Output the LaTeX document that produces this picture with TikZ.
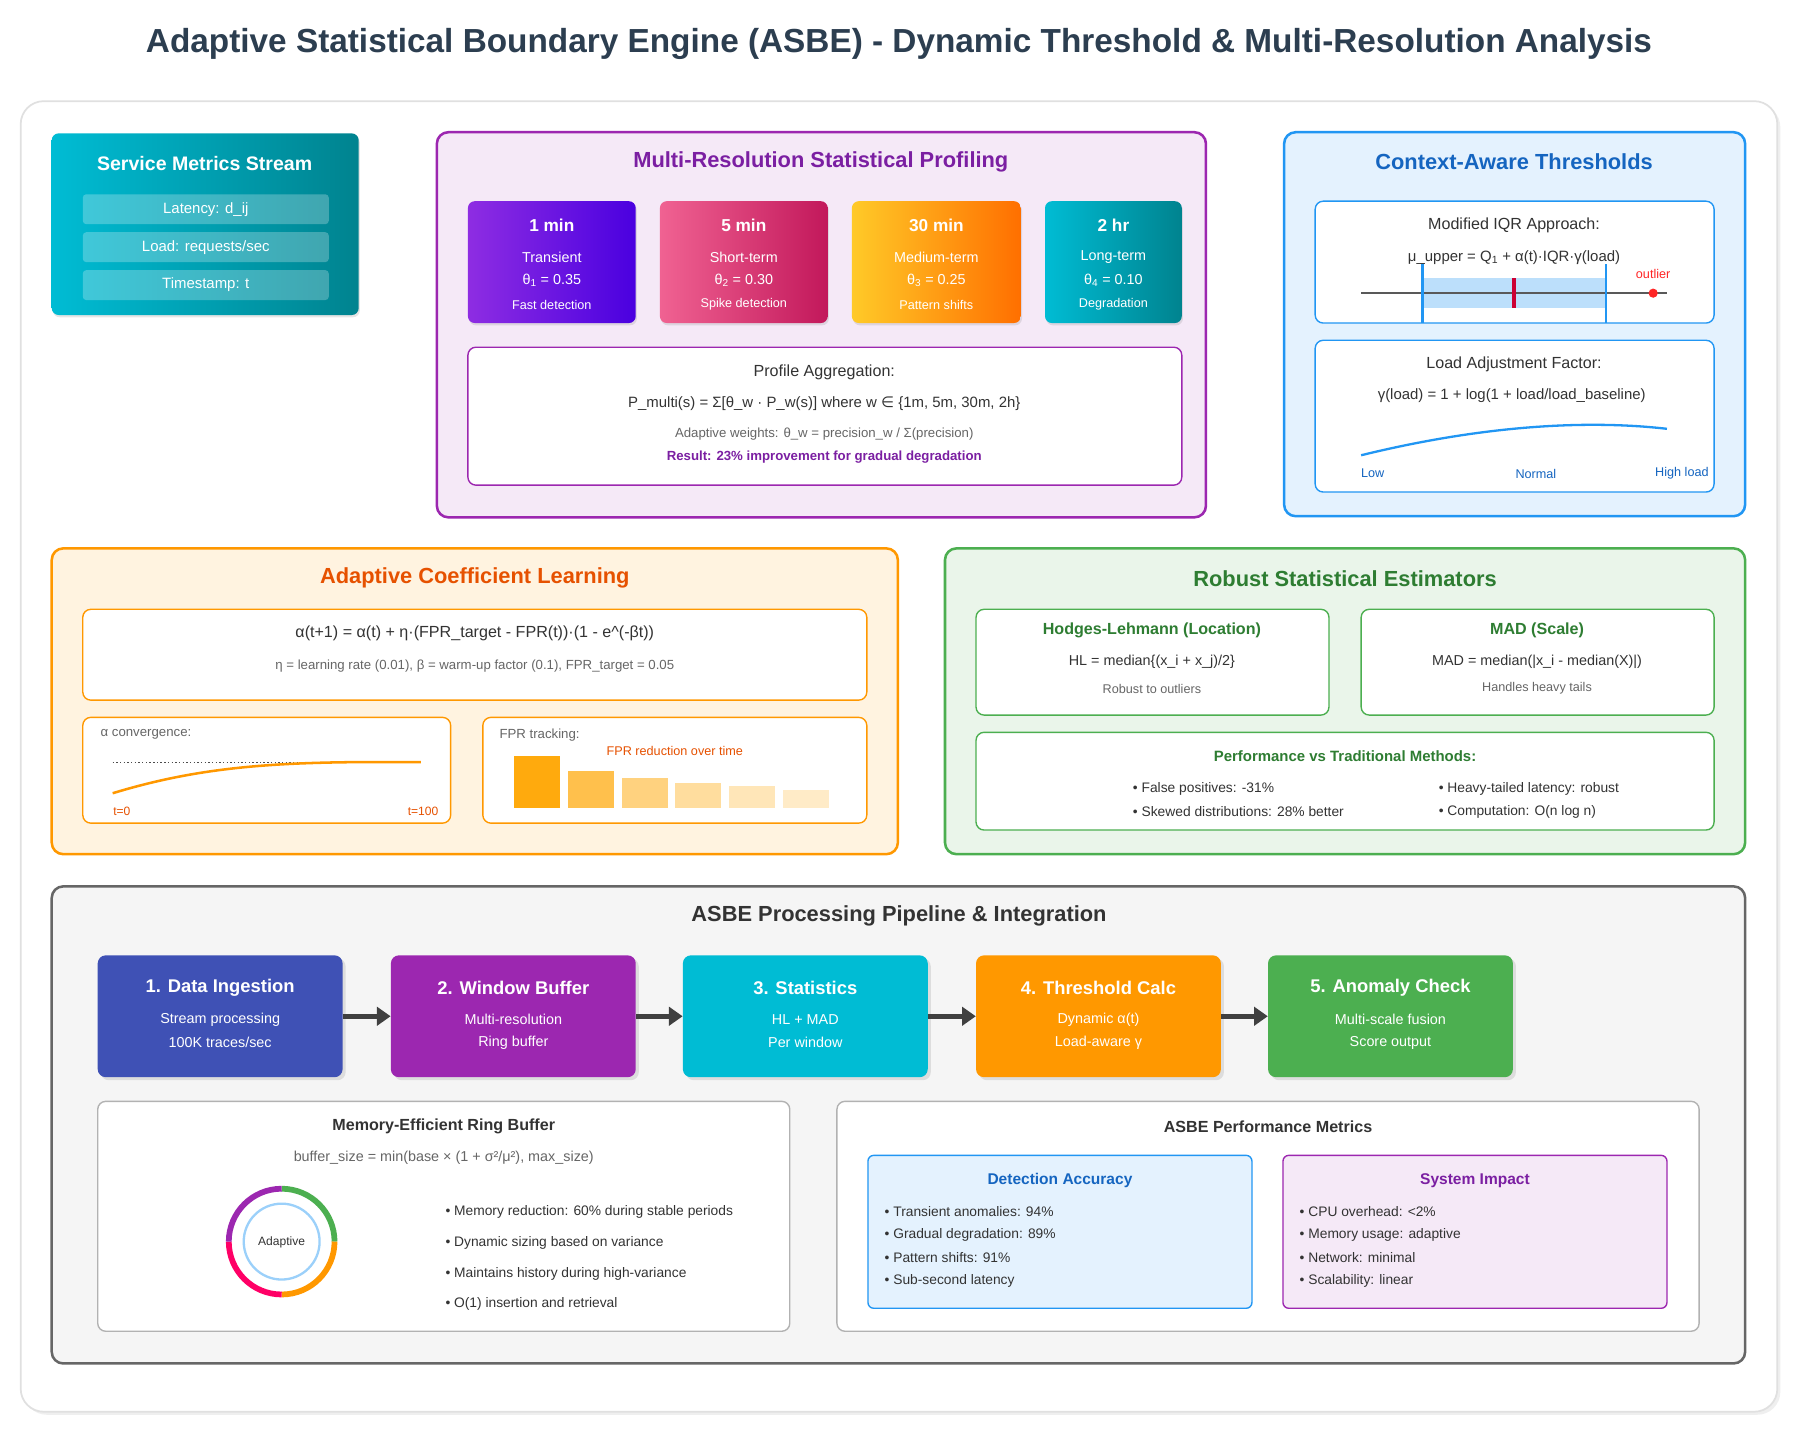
\documentclass[tikz,border=0pt]{standalone}
\usepackage{fontspec}
\setmainfont{Liberation Sans}
\newfontfamily\dv{DejaVu Sans}
\usetikzlibrary{shadows,arrows.meta}
\definecolor{ttl}{HTML}{2C3E50}
\definecolor{txt}{HTML}{333333}
\definecolor{gtxt}{HTML}{666666}
\definecolor{pur}{HTML}{9C27B0}
\definecolor{dpur}{HTML}{7B1FA2}
\definecolor{blu}{HTML}{2196F3}
\definecolor{dblu}{HTML}{1565C0}
\definecolor{org}{HTML}{FF9800}
\definecolor{dorg}{HTML}{E65100}
\definecolor{grn}{HTML}{4CAF50}
\definecolor{dgrn}{HTML}{2E7D32}
\definecolor{tea}{HTML}{00BCD4}
\definecolor{dtea}{HTML}{00838F}
\newcommand\fs[1]{\fontsize{#1}{#1}\selectfont}
\tikzset{
 panel/.style={rounded corners=10pt,line width=2.2pt},
 sub/.style={rounded corners=7pt,line width=1.2pt,fill=white},
 card/.style={rounded corners=6pt,draw=none,drop shadow={opacity=0.2,shadow xshift=1pt,shadow yshift=-2pt}},
 pstep/.style={rounded corners=7pt,minimum width=213pt,minimum height=106pt,text=white,align=center,drop shadow={opacity=0.2}},
 ptitle/.style={font=\fs{19}\bfseries},
 body/.style={font=\fs{13},text=txt},
 small/.style={font=\fs{11.5},text=gtxt},
}
\begin{document}
\begin{tikzpicture}[x=1pt,y=-1pt]
\useasboundingbox (0,0) rectangle (1564,1248);
\fill[white] (0,0) rectangle (1564,1248);
\node[font=\fs{29}\bfseries,text=ttl] (title) at (782,38) {Adaptive Statistical Boundary Engine (ASBE) - Dynamic Threshold \& Multi-Resolution Analysis};
\draw[rounded corners=20pt,draw=black!12,line width=1.5pt,fill=white,drop shadow={opacity=0.12}] (18,88) rectangle (1546,1228);

% service metrics
\draw[card,left color=tea,right color=dtea] (45,116) rectangle (312,274);
\node[font=\fs{17}\bfseries,text=white] at (178,142) {Service Metrics Stream};
\foreach \y/\t in {182/{Latency: d\_ij},215/{Load: requests/sec},248/{Timestamp: t}}{
 \fill[white,opacity=0.25,rounded corners=3pt] (72,\y-13) rectangle (286,\y+13);
 \node[font=\fs{13},text=white] at (179,\y) {\t};}

% multi-resolution
\draw[panel,draw=pur,fill=pur!10] (380,115) rectangle (1049,450);
\node[ptitle,text=dpur] at (714,141) {Multi-Resolution Statistical Profiling};
\foreach \a/\b/\ca/\cb/\h/\n/\th/\d in {
 407/553/8E2DE2/4A00E0/1 min/Transient/{θ\textsubscript{1} = 0.35}/Fast detection,
 574/720/F06292/C2185B/5 min/Short-term/{θ\textsubscript{2} = 0.30}/Spike detection,
 741/888/FFCA28/FF6F00/30 min/Medium-term/{θ\textsubscript{3} = 0.25}/Pattern shifts,
 909/1028/00BCD4/00838F/2 hr/Long-term/{θ\textsubscript{4} = 0.10}/Degradation}{
 \definecolor{ca}{HTML}{\ca}\definecolor{cb}{HTML}{\cb}
 \draw[card,left color=ca,right color=cb] (\a,175) rectangle (\b,281);
 \node[font=\fs{15}\bfseries,text=white] at ({(\a+\b)/2},196) {\h};
 \node[font=\fs{12.5},text=white] at ({(\a+\b)/2},224) {\n};
 \node[font=\fs{12.5},text=white] at ({(\a+\b)/2},244) {\th};
 \node[font=\fs{11},text=white] at ({(\a+\b)/2},265) {\d};}
\draw[sub,draw=pur] (407,302) rectangle (1028,422);
\node[body,font=\fs{14}] at (717,324) {Profile Aggregation:};
\node[body] at (717,351) {P\_multi(s) = Σ[θ\_w · P\_w(s)] where w {\dv ∈} \{1m, 5m, 30m, 2h\}};
\node[small] at (717,378) {Adaptive weights: θ\_w = precision\_w / Σ(precision)};
\node[font=\fs{11.5}\bfseries,text=dpur] at (717,398) {Result: 23\% improvement for gradual degradation};

% context aware
\draw[panel,draw=blu,fill=blu!12] (1117,115) rectangle (1518,449);
\node[ptitle,text=dblu] at (1317,141) {Context-Aware Thresholds};
\draw[sub,draw=blu] (1144,175) rectangle (1491,281);
\node[body,font=\fs{14}] at (1317,196) {Modified IQR Approach:};
\node[body] at (1317,224) {μ\_upper = Q\textsubscript{1} + α(t)·IQR·γ(load)};
\fill[blu!30] (1237,242) rectangle (1397,268);
\draw[line width=1.5pt,black!65] (1184,255) -- (1450,255);
\draw[line width=2.5pt,blu] (1237,230) -- (1237,281) (1397,230) -- (1397,281);
\draw[line width=3pt,red!80!blue] (1317,242) -- (1317,268);
\fill[red!85] (1438,255) circle (4pt);
\node[font=\fs{11},text=red!85] at (1438,238) {outlier};
\draw[sub,draw=blu] (1144,296) rectangle (1491,428);
\node[body,font=\fs{14}] at (1317,317) {Load Adjustment Factor:};
\node[body] at (1315,344) {γ(load) = 1 + log(1 + load/load\_baseline)};
\draw[line width=2pt,blu] (1184,396) .. controls (1290,370) and (1380,365) .. (1450,373);
\node[font=\fs{11},text=dblu] at (1194,412) {Low};
\node[font=\fs{11},text=dblu] at (1336,412) {Normal};
\node[font=\fs{11},text=dblu] at (1463,412) {High load};

% adaptive coefficient
\draw[panel,draw=org,fill=org!12] (45,477) rectangle (781,743);
\node[ptitle,text=dorg] at (413,503) {Adaptive Coefficient Learning};
\draw[sub,draw=org] (72,530) rectangle (754,609);
\node[body,font=\fs{14}] at (413,551) {α(t+1) = α(t) + η·(FPR\_target - FPR(t))·(1 - e\textasciicircum(-βt))};
\node[small] at (413,579) {η = learning rate (0.01), β = warm-up factor (0.1), FPR\_target = 0.05};
\draw[sub,draw=org] (72,624) rectangle (392,716);
\node[small,anchor=west] at (84,639) {α convergence:};
\draw[dotted,line width=1.2pt,black!70] (98,663) -- (366,663);
\draw[line width=2.2pt,org] (98,690) .. controls (180,665) and (250,662) .. (366,663);
\node[font=\fs{10.5},text=dorg] at (106,706) {t=0};
\node[font=\fs{10.5},text=dorg] at (368,706) {t=100};
\draw[sub,draw=org] (420,624) rectangle (754,716);
\node[small,anchor=west] at (431,639) {FPR tracking:};
\node[font=\fs{11},text=dorg] at (587,653) {FPR reduction over time};
\foreach \a/\t/\o in {447/658/0.95,494/671/0.7,541/677/0.5,587/681/0.38,634/684/0.28,681/687/0.22}
 \fill[orange!70!yellow,opacity=\o] (\a,\t) rectangle (\a+40,703);

% robust
\draw[panel,draw=grn,fill=grn!12] (822,477) rectangle (1518,743);
\node[ptitle,text=dgrn] at (1170,503) {Robust Statistical Estimators};
\draw[sub,draw=grn] (849,530) rectangle (1156,622);
\node[font=\fs{14}\bfseries,text=dgrn] at (1002,548) {Hodges-Lehmann (Location)};
\node[body,font=\fs{12.5}] at (1002,576) {HL = median\{(x\_i + x\_j)/2\}};
\node[small,font=\fs{11}] at (1002,599) {Robust to outliers};
\draw[sub,draw=grn] (1184,530) rectangle (1491,622);
\node[font=\fs{14}\bfseries,text=dgrn] at (1337,548) {MAD (Scale)};
\node[body,font=\fs{12.5}] at (1337,576) {MAD = median(|x\_i - median(X)|)};
\node[small,font=\fs{11}] at (1337,599) {Handles heavy tails};
\draw[sub,draw=grn] (849,637) rectangle (1491,722);
\node[font=\fs{13}\bfseries,text=dgrn] at (1170,658) {Performance vs Traditional Methods:};
\node[body,font=\fs{12},anchor=west] at (982,686) {• False positives: -31\%};
\node[body,font=\fs{12},anchor=west] at (982,706) {• Skewed distributions: 28\% better};
\node[body,font=\fs{12},anchor=west] at (1248,686) {• Heavy-tailed latency: robust};
\node[body,font=\fs{12},anchor=west] at (1248,706) {• Computation: O(n log n)};

% pipeline
\draw[panel,draw=black!60,fill=black!4] (45,771) rectangle (1518,1186);
\node[font=\fs{19}\bfseries,text=txt] at (782,797) {ASBE Processing Pipeline \& Integration};
\foreach \n/\x/\c/\h/\l/\m in {
 s1/191.5/3F51B5/{1. Data Ingestion}/{Stream processing}/{100K traces/sec},
 s2/446.5/9C27B0/{2. Window Buffer}/{Multi-resolution}/{Ring buffer},
 s3/700.5/00BCD4/{3. Statistics}/{HL + MAD}/{Per window},
 s4/955.5/FF9800/{4. Threshold Calc}/{Dynamic α(t)}/{Load-aware γ},
 s5/1209.5/4CAF50/{5. Anomaly Check}/{Multi-scale fusion}/{Score output}}{
 \definecolor{sc}{HTML}{\c}
 \node[pstep,fill=sc] (\n) at (\x,884) {};
 \node[font=\fs{16}\bfseries,text=white] at (\x,859) {\h};
 \node[font=\fs{12.5},text=white] at (\x,887) {\l};
 \node[font=\fs{12.5},text=white] at (\x,907) {\m};}
\foreach \a/\b in {s1/s2,s2/s3,s3/s4,s4/s5}
 \draw[line width=4pt,black!75,-{Triangle[length=12pt,width=16pt]}] (\a.east) -- (\b.west);

\draw[sub,draw=black!30] (85,958) rectangle (687,1158);
\node[font=\fs{14}\bfseries,text=txt] at (386,980) {Memory-Efficient Ring Buffer};
\node[small,font=\fs{12.5}] at (386,1007) {buffer\_size = min(base × (1 + σ²/μ²), max\_size)};
\draw[line width=5pt,grn] (245,1080) ++(-90:46) arc[start angle=-90,end angle=0,radius=46];
\draw[line width=5pt,org] (245,1080) ++(0:46) arc[start angle=0,end angle=90,radius=46];
\draw[line width=5pt,red!60!magenta] (245,1080) ++(90:46) arc[start angle=90,end angle=180,radius=46];
\draw[line width=5pt,pur] (245,1080) ++(180:46) arc[start angle=180,end angle=270,radius=46];
\draw[line width=2pt,blu!45] (245,1080) circle (33pt);
\node[font=\fs{10.5},text=txt] at (245,1081) {Adaptive};
\foreach \y/\t in {1054/{Memory reduction: 60\% during stable periods},1081/{Dynamic sizing based on variance},1108/{Maintains history during high-variance},1134/{O(1) insertion and retrieval}}
 \node[body,font=\fs{12},anchor=west] at (384,\y) {• \t};

\draw[sub,draw=black!30] (728,958) rectangle (1478,1158);
\node[font=\fs{14}\bfseries,text=txt] at (1103,980) {ASBE Performance Metrics};
\draw[rounded corners=5pt,line width=1.2pt,draw=blu,fill=blu!12] (755,1005) rectangle (1089,1138);
\node[font=\fs{13.5}\bfseries,text=dblu] at (922,1027) {Detection Accuracy};
\draw[rounded corners=5pt,line width=1.2pt,draw=pur,fill=pur!10] (1116,1005) rectangle (1450,1138);
\node[font=\fs{13.5}\bfseries,text=dpur] at (1283,1027) {System Impact};
\foreach \y/\t/\u in {1054/{Transient anomalies: 94\%}/{CPU overhead: <2\%},1074/{Gradual degradation: 89\%}/{Memory usage: adaptive},1094/{Pattern shifts: 91\%}/{Network: minimal},1114/{Sub-second latency}/{Scalability: linear}}{
 \node[body,font=\fs{12},anchor=west] at (766,\y) {• \t};
 \node[body,font=\fs{12},anchor=west] at (1127,\y) {• \u};}
\end{tikzpicture}
\end{document}
